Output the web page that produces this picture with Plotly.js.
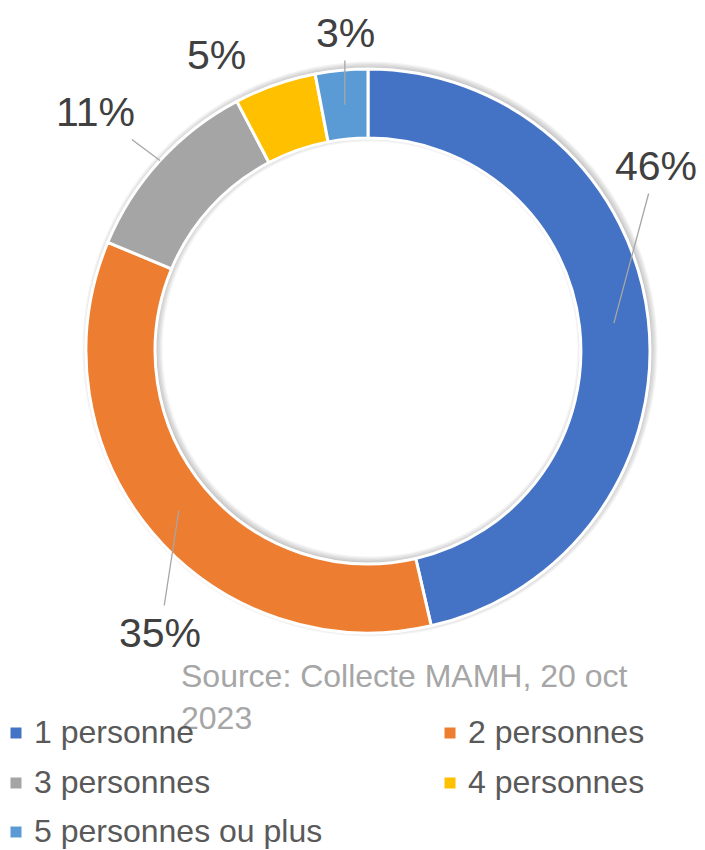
<!DOCTYPE html>
<html>
<head>
<meta charset="utf-8">
<script src="https://cdn.plot.ly/plotly-3.0.1.min.js"></script>
<style>html,body{margin:0;padding:0;background:#fff;overflow:hidden}#chart{width:705px;height:850px}</style>
</head>
<body>
<div id="chart"></div>
<script>
// ---- data ----
const categories = ["1 personne", "2 personnes", "3 personnes", "4 personnes", "5 personnes ou plus"];
const shares = [46.4, 34.9, 11.0, 4.7, 3.0];
const colors = ["#4472C4", "#ED7D31", "#A5A5A5", "#FFC000", "#5B9BD5"];
const sourceText = "Source: Collecte MAMH, 20 oct<br>2023";

// ---- layout constants (pixels) ----
const W = 705, H = 850;
const CX = 368, CY = 351, R = 282, HOLE = 0.755;
const FONT = "Liberation Sans, Arial, sans-serif";
// label centres (px) and leader-line anchor (fraction of radius; null = no line)
const labelCentres = [[656, 166], [160, 633], [95, 112], [216, 55], [345, 33]];
const leaderR = [0.8775, 0.8775, 1.0, null, 0.8775];
// legend grid: two columns, rows
const legendColX = [35, 469];      // text start
const legendRowY = [733, 783, 832]; // row centre
const legendBox = 11;

const total = shares.reduce((a, b) => a + b, 0);
const px2x = p => p / W, px2y = p => 1 - p / H;

// ---- percentage labels with leader lines ----
let cum = 0;
const annotations = [];
shares.forEach((v, i) => {
  const mid = (cum + v / 2) / total * 2 * Math.PI;
  cum += v;
  const txt = Math.round(v / total * 100) + "%";
  const [lx, ly] = labelCentres[i];
  const font = {family: FONT, size: 41, color: "#404040"};
  if (leaderR[i] === null) {
    annotations.push({xref: "paper", yref: "paper", x: px2x(lx), y: px2y(ly),
      text: txt, showarrow: false, xanchor: "center", yanchor: "middle", font});
  } else {
    const r = R * leaderR[i];
    const px = CX + r * Math.sin(mid), py = CY - r * Math.cos(mid);
    annotations.push({xref: "paper", yref: "paper", x: px2x(px), y: px2y(py),
      ax: lx - px, ay: ly - py, text: txt, showarrow: true, arrowhead: 0,
      arrowwidth: 1.3, arrowcolor: "#a6a6a6", standoff: 0, borderpad: 4, font});
  }
});

// ---- source note ----
annotations.push({xref: "paper", yref: "paper", x: px2x(179), y: px2y(656),
  xanchor: "left", yanchor: "top", align: "left", showarrow: false,
  text: sourceText, font: {family: FONT, size: 32, color: "#a6a6a6"}});

// ---- legend (two columns) ----
const shapes = [];
categories.forEach((c, i) => {
  const col = i % 2, row = Math.floor(i / 2);
  const tx = legendColX[col], ty = legendRowY[row];
  const mx = tx - 19;
  shapes.push({type: "rect", xref: "paper", yref: "paper",
    x0: px2x(mx - legendBox / 2), x1: px2x(mx + legendBox / 2),
    y0: px2y(ty + legendBox / 2), y1: px2y(ty - legendBox / 2),
    fillcolor: colors[i], line: {width: 0}});
  annotations.push({xref: "paper", yref: "paper", x: px2x(tx - 2), y: px2y(ty - 1),
    xanchor: "left", yanchor: "middle", showarrow: false, text: c, borderpad: 0,
    font: {family: FONT, size: 32, color: "#595959"}});
});

// ---- soft shadow (offset up-right), built as faint rings under the donut ----
const shadowTraces = [];
const SDX = 2, SDY = -2, rIn = R * HOLE;
for (let k = 1; k <= 5; k++) {
  const ro = R - 1 + k * 1.3, ri = rIn + 1 - k * 1.3;
  const cx = CX + SDX, cy = CY + SDY;
  shadowTraces.push({type: "pie", values: [total], labels: ["shadow"], sort: false,
    hole: ri / ro, textinfo: "none", hoverinfo: "skip", showlegend: false,
    marker: {colors: ["rgba(0,0,0,0.045)"], line: {width: 0}},
    domain: {x: [px2x(cx - ro), px2x(cx + ro)], y: [px2y(cy + ro), px2y(cy - ro)]}});
}

const trace = {
  type: "pie", labels: categories, values: shares, sort: false,
  direction: "clockwise", rotation: 0, hole: HOLE, showlegend: false,
  marker: {colors: colors, line: {color: "#ffffff", width: 3}},
  textinfo: "none", hoverinfo: "label+percent",
  domain: {x: [px2x(CX - R), px2x(CX + R)], y: [px2y(CY + R), px2y(CY - R)]}
};

const layout = {
  width: W, height: H, margin: {l: 0, r: 0, t: 0, b: 0, autoexpand: false},
  paper_bgcolor: "#ffffff", plot_bgcolor: "#ffffff",
  showlegend: false, annotations, shapes
};

Plotly.newPlot("chart", shadowTraces.concat([trace]), layout, {displayModeBar: false, staticPlot: true});
</script>
</body>
</html>
